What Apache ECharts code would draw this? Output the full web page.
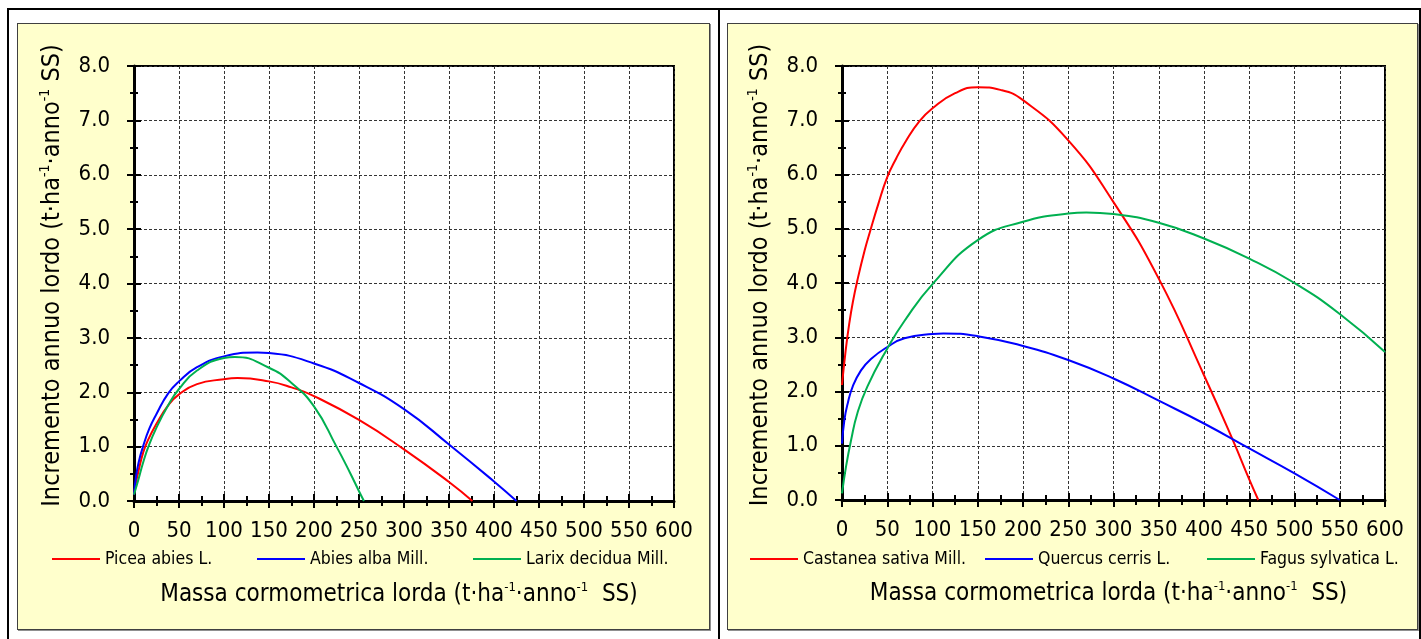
<!DOCTYPE html>
<html>
<head>
<meta charset="utf-8">
<script src="https://cdn.jsdelivr.net/npm/echarts@6/dist/echarts.min.js"></script>
<style>
body { margin: 0; background: #fff; width: 1421px; height: 639px; overflow: hidden; position: relative; }
.ln { position: absolute; background: #000; }
.panel { position: absolute; background: #ffffcc; border: 1px solid #404040; box-sizing: border-box; box-shadow: 1px 1px 0 #909090; }
.chart { position: absolute; }
</style>
</head>
<body>
<!-- cornice esterna -->
<div class="ln" style="left:7px;top:8px;width:1414px;height:2px"></div>
<div class="ln" style="left:7px;top:8px;width:2px;height:640px"></div>
<div class="ln" style="left:718px;top:8px;width:2px;height:640px"></div>
<div class="ln" style="left:1419px;top:8px;width:2px;height:640px"></div>

<div class="panel" style="left:17px;top:23px;width:693px;height:607px"></div>
<div class="panel" style="left:727px;top:23px;width:691px;height:607px"></div>

<div id="conifere" class="chart" style="left:18px;top:24px;width:692px;height:606px"></div>
<div id="latifoglie" class="chart" style="left:728px;top:24px;width:690px;height:606px"></div>

<script>
var FONT = "'DejaVu Sans Condensed', 'Liberation Sans', sans-serif";

/* conifere */
var piceaX = [0, 2, 5, 10, 15, 25, 38, 50, 70, 100, 115, 150, 175, 200, 250, 300, 350, 376];
var piceaY = [0.12, 0.32, 0.55, 0.88, 1.1, 1.42, 1.76, 1.96, 2.15, 2.24, 2.26, 2.2, 2.09, 1.93, 1.49, 0.95, 0.35, 0];
var abiesX = [0, 2, 5, 10, 17, 25, 38, 50, 70, 100, 137, 150, 200, 250, 300, 350, 400, 425];
var abiesY = [0.12, 0.42, 0.7, 1.0, 1.33, 1.6, 1.98, 2.2, 2.46, 2.66, 2.73, 2.72, 2.53, 2.17, 1.69, 1.04, 0.36, 0];
var larixX = [0, 5, 10, 16, 25, 38, 50, 70, 100, 112, 150, 175, 200, 225, 240, 250, 255.5];
var larixY = [0.12, 0.4, 0.7, 1.0, 1.35, 1.76, 2.06, 2.4, 2.63, 2.65, 2.45, 2.17, 1.74, 1.0, 0.52, 0.18, 0];

/* latifoglie */
var castaneaX = [0, 4, 8, 12, 17, 25, 31, 40, 50, 60, 70, 85, 100, 125, 150, 175, 200, 250, 300, 350, 400, 432, 450, 460];
var castaneaY = [2.12, 2.75, 3.25, 3.65, 4.05, 4.6, 4.95, 5.45, 5.95, 6.3, 6.6, 6.97, 7.22, 7.5, 7.61, 7.56, 7.37, 6.63, 5.49, 4.08, 2.3, 1.1, 0.38, 0];
var quercusX = [0, 2.6, 6.3, 11.8, 21, 32, 50, 69, 100, 112, 150, 200, 250, 300, 350, 400, 450, 500, 550];
var quercusY = [1.04, 1.47, 1.78, 2.09, 2.39, 2.6, 2.82, 2.98, 3.06, 3.07, 3.02, 2.84, 2.58, 2.24, 1.83, 1.41, 0.95, 0.49, 0];
var fagusX = [0, 4.4, 10, 17, 28, 50, 69, 100, 150, 200, 250, 270, 300, 350, 400, 450, 500, 550, 600];
var fagusY = [0.12, 0.61, 1.1, 1.6, 2.09, 2.79, 3.3, 3.98, 4.79, 5.13, 5.28, 5.3, 5.27, 5.11, 4.82, 4.45, 4.0, 3.43, 2.73];

var xTitle = '{a|Massa cormometrica lorda (t·ha}{s|-1}{a|·anno}{s|-1}{a|  SS)}';
var yTitle = '{a|Incremento annuo lordo (t·ha}{s|-1}{a|·anno}{s|-1}{a| SS)}';

function rich(size) {
    return {
        a: { fontFamily: FONT, fontSize: size, color: '#000', lineHeight: size + 4 },
        s: { fontFamily: FONT, fontSize: Math.round(size * 0.54), color: '#000', lineHeight: 14, verticalAlign: 'top' }
    };
}

function pairs(xs, ys) {
    return xs.map(function (x, i) { return [x, ys[i]]; });
}

function linea(nome, xs, ys, colore) {
    return {
        name: nome,
        type: 'line',
        data: pairs(xs, ys),
        symbol: 'none',
        smooth: 0.5,
        color: colore,
        lineStyle: { color: colore, width: 2 }
    };
}

// una legenda per voce, come nel grafico di Excel
function legende(series, lefts) {
    return series.map(function (s, i) {
        return {
            left: lefts[i], top: 526, padding: 0,
            icon: 'rect', itemWidth: 48, itemHeight: 2,
            textStyle: { fontFamily: FONT, fontSize: 17.5, color: '#000' },
            data: [s.name]
        };
    });
}

function makeOption(g, legendLefts, series) {
    var tick = { color: '#000', width: 2 };
    return {
        animation: false,
        textStyle: { fontFamily: FONT },
        grid: {
            left: g.left, top: g.top, width: g.width, height: g.height,
            show: true, backgroundColor: '#fff', borderColor: '#000', borderWidth: 2
        },
        legend: legende(series, legendLefts),
        xAxis: [{
            type: 'value', min: 0, max: 600, interval: 50, position: 'bottom',
            axisLine: { show: true, onZero: false, lineStyle: { color: '#000', width: 3 } },
            axisTick: { show: true, length: 7, lineStyle: tick },
            minorTick: { show: true, splitNumber: 2, length: 5, lineStyle: tick },
            axisLabel: { fontFamily: FONT, fontSize: 22, color: '#000', margin: 19 },
            splitLine: { show: true, lineStyle: { type: [3, 2], color: '#333', width: 1 } },
            name: xTitle, nameLocation: 'middle', nameGap: 80,
            nameTextStyle: { rich: rich(24), padding: [0, 10, 0, 0] }
        }, {
            type: 'value', min: 0, max: 600, interval: 50, position: 'bottom',
            axisLine: { show: false, onZero: false },
            axisTick: { show: true, inside: true, length: 7, lineStyle: tick },
            minorTick: { show: true, splitNumber: 2, length: 5, lineStyle: tick },
            axisLabel: { show: false },
            splitLine: { show: false }
        }],
        yAxis: [{
            type: 'value', min: 0, max: 8, interval: 1, position: 'left',
            axisLine: { show: true, onZero: false, lineStyle: { color: '#000', width: 3 } },
            axisTick: { show: true, length: 7, lineStyle: tick },
            minorTick: { show: true, splitNumber: 2, length: 4, lineStyle: tick },
            axisLabel: {
                fontFamily: FONT, fontSize: 22, color: '#000', margin: 24,
                formatter: function (v) { return v.toFixed(1); }
            },
            splitLine: { show: true, lineStyle: { type: [3, 2], color: '#333', width: 1 } },
            name: yTitle, nameLocation: 'middle', nameRotate: 90, nameGap: 67,
            nameTextStyle: { rich: rich(25), padding: [0, 0, 0, 16] }
        }, {
            type: 'value', min: 0, max: 8, interval: 1, position: 'left',
            axisLine: { show: false, onZero: false },
            axisTick: { show: true, inside: true, length: 7, lineStyle: tick },
            minorTick: { show: true, splitNumber: 2, length: 4, lineStyle: tick },
            axisLabel: { show: false },
            splitLine: { show: false }
        }],
        series: series
    };
}

var chartL = echarts.init(document.getElementById('conifere'));
chartL.setOption(makeOption(
    { left: 116, top: 42, width: 540, height: 435 }, [34, 239, 455],
    [
        linea('Picea abies L.', piceaX, piceaY, '#ff0000'),
        linea('Abies alba Mill.', abiesX, abiesY, '#0000ff'),
        linea('Larix decidua Mill.', larixX, larixY, '#00b050')
    ]
));

var chartR = echarts.init(document.getElementById('latifoglie'));
chartR.setOption(makeOption(
    { left: 114, top: 42, width: 543, height: 434 }, [22, 257, 479],
    [
        linea('Castanea sativa Mill.', castaneaX, castaneaY, '#ff0000'),
        linea('Quercus cerris L.', quercusX, quercusY, '#0000ff'),
        linea('Fagus sylvatica L.', fagusX, fagusY, '#00b050')
    ]
));
</script>
</body>
</html>
